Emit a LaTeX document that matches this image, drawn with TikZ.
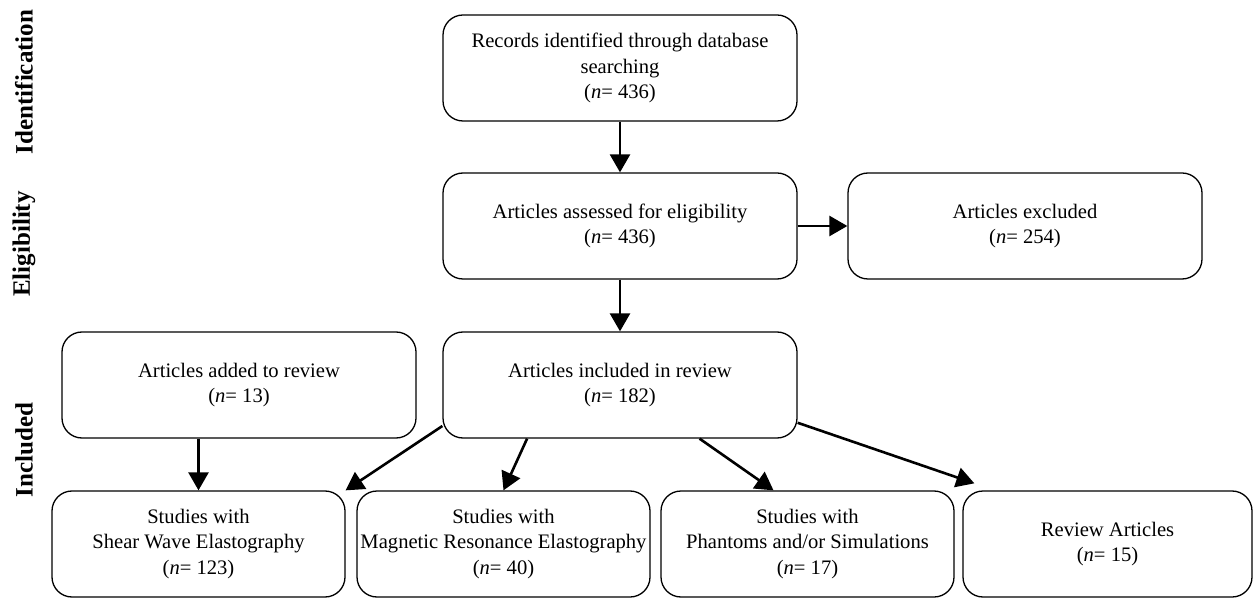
\documentclass[tikz,border=0pt]{standalone}
\usepackage{fontspec}
\setmainfont{Liberation Serif}
\usetikzlibrary{arrows.meta}

\begin{document}
\begin{tikzpicture}[x=0.5pt, y=-0.5pt, font=\fontsize{10.3}{12.6}\selectfont,
  box/.style={draw, rounded corners=10pt, line width=0.65pt, align=center, inner sep=0pt, minimum height=53pt},
  wide/.style={box, minimum width=177pt},
  narrow/.style={box, minimum width=146.5pt},
  phase/.style={rotate=90, font=\fontsize{12.5}{15}\selectfont\bfseries},
  arr/.style={line width=1.3pt, -{Triangle[length=9pt,width=10pt]}}]
  \useasboundingbox (0,0) rectangle (1257,598);

  \node[phase] (ident) at (24,82) {Identification};
  \node[phase] (elig) at (24,244) {Eligibility};
  \node[phase] (incl) at (24,450) {Included};

  \node[wide] (rec) at (620,68) {Records identified through database\\searching\\(\textit{n}= 436)};
  \node[wide] (ass) at (620,226) {Articles assessed for eligibility\\(\textit{n}= 436)};
  \node[wide] (exc) at (1025,226) {Articles excluded\\(\textit{n}= 254)};
  \node[wide] (inc) at (620,385) {Articles included in review\\(\textit{n}= 182)};
  \node[wide] (add) at (239,385) {Articles added to review\\(\textit{n}= 13)};

  \node[narrow] (swe) at (198.5,544) {Studies with\\Shear Wave Elastography\\(\textit{n}= 123)};
  \node[narrow] (mre) at (503.5,544) {Studies with\\Magnetic Resonance Elastography\\(\textit{n}= 40)};
  \node[narrow] (pha) at (807.5,544) {Studies with\\Phantoms and/or Simulations\\(\textit{n}= 17)};
  \node[narrow, minimum width=144.5pt] (rev) at (1107.5,544) {Review Articles\\(\textit{n}= 15)};

  \draw[arr] (rec) -- (ass);
  \draw[arr] (ass) -- (exc);
  \draw[arr] (ass) -- (inc);
  \draw[arr] (swe.north |- add.south) -- (swe.north);
  \draw[arr] (inc.193) -- (swe.north east);
  \draw[arr] (inc.210) -- (mre.north);
  \draw[arr] (inc.326) -- ([xshift=-17pt]pha.north);
  \draw[arr] (inc.348) -- ([xshift=6pt,yshift=3.5pt]rev.north west);
\end{tikzpicture}
\end{document}
